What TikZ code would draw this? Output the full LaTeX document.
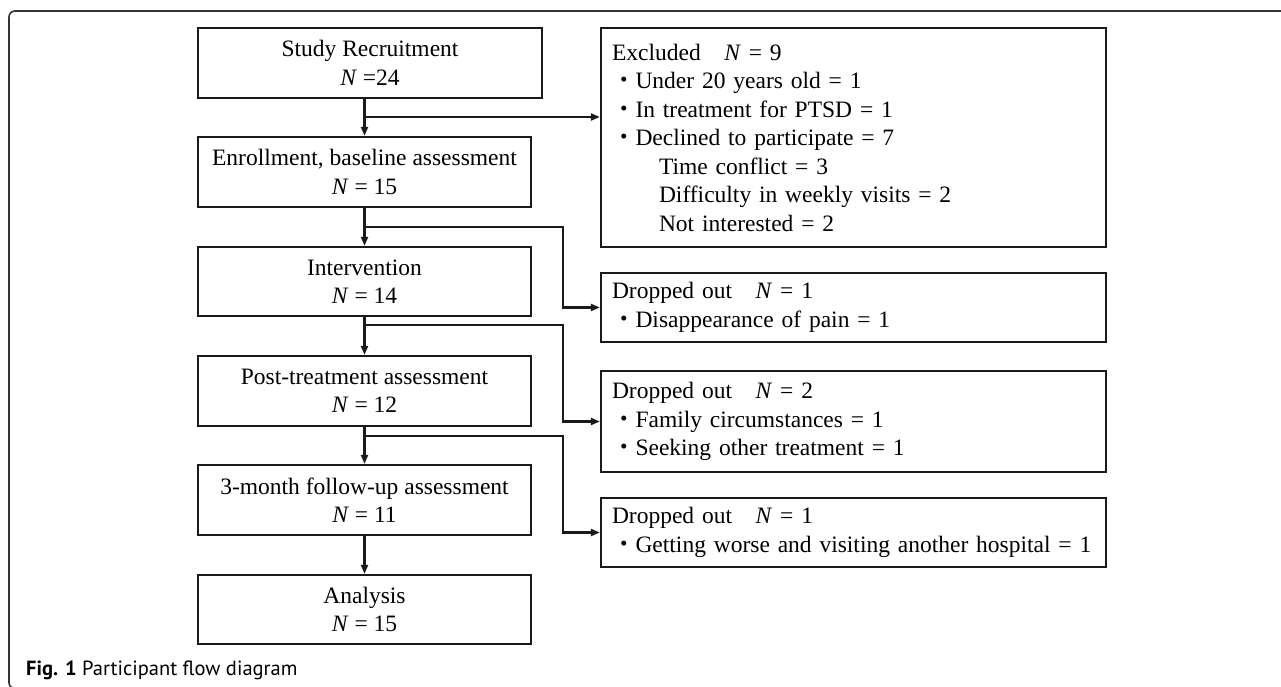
\documentclass[tikz,border=0pt]{standalone}
\usepackage{fontspec}
\setmainfont{Liberation Serif}
\newfontfamily\cjk{Noto Sans CJK JP}
\newfontfamily\capfont{PT Sans}
\usetikzlibrary{arrows.meta}
\definecolor{framecol}{HTML}{333333}
\definecolor{boxcol}{HTML}{1A1A1A}
\newcommand\mybul{{\cjk ・}}
\newcommand\fwsp{{\cjk 　}}
\begin{document}
\begin{tikzpicture}[x=1pt,y=-1pt,
  txt/.style={font=\fontsize{23.5}{28.5}\selectfont},
  box/.style={txt, draw=boxcol, line width=2.3pt, minimum height=70pt, minimum width=333pt, inner sep=0pt, align=center},
  rbox/.style={txt, draw=boxcol, line width=2.3pt, text width=483pt, inner xsep=11pt, inner ysep=0pt, align=left, minimum width=505pt},
  arr/.style={draw=boxcol, line width=2.1pt, -{Triangle[length=9pt,width=7pt]}},
]
\useasboundingbox (0,0) rectangle (1281,687);
\fill[white] (0,0) rectangle (1281,687);
% outer frame
\draw[framecol, line width=1.6pt, rounded corners=6pt] (1295,11) -- (9,11) -- (9,688.5) -- (30,688.5);

% left column
\node[box, minimum width=344pt] (study) at (370,63) {Study Recruitment\\\textit{N} =24};
\node[box] (enroll) at (364.5,172) {Enrollment, baseline assessment\\\textit{N} = 15};
\node[box, minimum height=69pt] (interv) at (364.5,281.5) {Intervention\\\textit{N} = 14};
\node[box] (post) at (364.5,391) {Post-treatment assessment\\\textit{N} = 12};
\node[box] (fu) at (364.5,500) {3-month follow-up assessment\\\textit{N} = 11};
\node[box, minimum height=69pt] (analysis) at (364.5,609.5) {Analysis\\\textit{N} = 15};

% right column
\node[rbox, minimum height=219pt] (excl) at (853.5,137.5) {Excluded\fwsp\textit{N} = 9\\
\mybul Under 20 years old = 1\\
\mybul In treatment for PTSD = 1\\
\mybul Declined to participate = 7\\
\hspace*{2em}Time conflict = 3\\
\hspace*{2em}Difficulty in weekly visits = 2\\
\hspace*{2em}Not interested = 2};
\node[rbox, minimum height=69pt] (d1) at (853.5,307.5) {Dropped out\fwsp\textit{N} = 1\\
\mybul Disappearance of pain = 1};
\node[rbox, minimum height=101pt] (d2) at (853.5,421.5) {Dropped out\fwsp\textit{N} = 2\\
\mybul Family circumstances = 1\\
\mybul Seeking other treatment = 1};
\node[rbox, minimum height=69pt] (d3) at (853.5,532.5) {Dropped out\fwsp\textit{N} = 1\\
\mybul Getting worse and visiting another hospital = 1};

% connectors
\coordinate (b1) at (364.5,117);
\coordinate (b2) at (364.5,227);
\coordinate (k2) at (563,227);
\coordinate (b3) at (364.5,325);
\coordinate (k3) at (563,325);
\coordinate (b4) at (364.5,436);
\coordinate (k4) at (563,436);

\draw[arr] (enroll.north |- study.south) -- (enroll.north);
\draw[arr] (b1) -- (b1 -| excl.west);
\draw[arr] (enroll.south) -- (interv.north);
\draw[arr] (b2) -- (k2) |- (d1.west);
\draw[arr] (interv.south) -- (post.north);
\draw[arr] (b3) -- (k3) |- (d2.west);
\draw[arr] (post.south) -- (fu.north);
\draw[arr] (b4) -- (k4) |- (d3.west);
\draw[arr] (fu.south) -- (analysis.north);

% caption
\node[anchor=base west, inner sep=0pt] (cap) at (26,675) {\capfont\fontsize{20.5}{24}\selectfont\textbf{Fig. 1} Participant flow diagram};
\end{tikzpicture}
\end{document}
